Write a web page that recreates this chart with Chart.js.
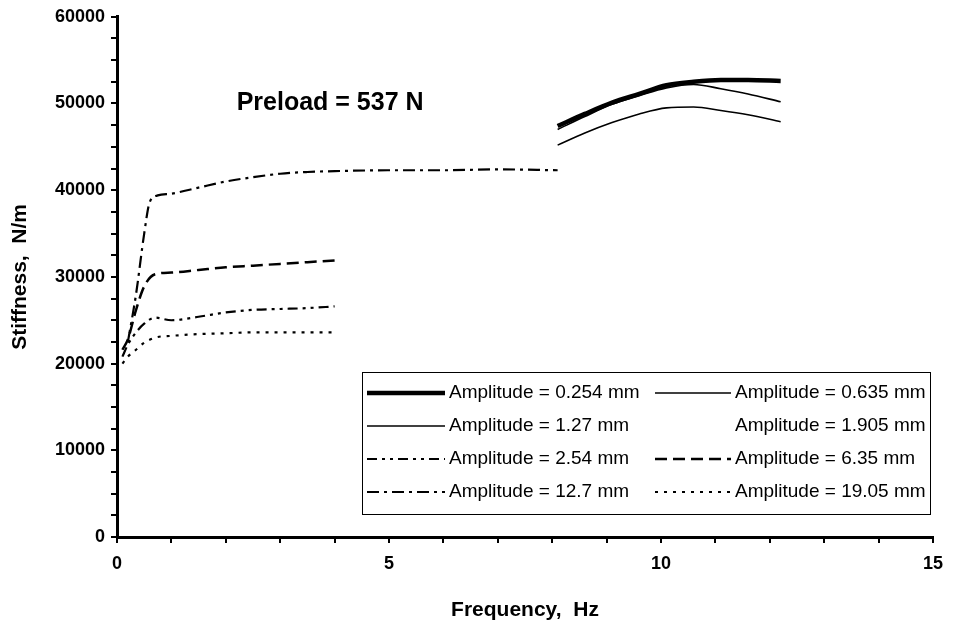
<!DOCTYPE html>
<html>
<head>
<meta charset="utf-8">
<script src="https://cdn.jsdelivr.net/npm/chart.js@4.4.1/dist/chart.umd.min.js"></script>
<style>
  html, body { margin: 0; padding: 0; background: #fff; }
  #wrap { width: 953px; height: 628px; }
</style>
</head>
<body>
<div id="wrap"><canvas id="chart" width="953" height="628"></canvas></div>
<script>
// frequency grids (Hz)
const freqLow = [0.1, 0.2, 0.35, 0.5, 0.7, 1, 1.5, 2, 2.5, 3, 3.5, 4];
const freqMid = [0.2, 0.35, 0.5, 0.6, 0.75, 1, 1.5, 2, 2.5, 3, 3.5, 4, 5, 6, 7, 8.1];
const freqHigh = [8.1, 8.6, 9.1, 9.6, 10.1, 10.6, 11.1, 11.6, 12.2];

// stiffness (N/m) per amplitude
const amp0254 = [47400, 48800, 50100, 51100, 52100, 52500, 52700, 52700, 52600];
const amp0635 = [47000, 48500, 49900, 50900, 51800, 52200, 51700, 51100, 50200];
const amp127 = [45200, 46600, 47800, 48800, 49500, 49600, 49200, 48700, 47900];
const amp1905 = [];
const amp254 = [20800, 22200, 23600, 24600, 25300, 25000, 25400, 25900, 26200, 26300, 26400, 26600];
const amp635 = [21600, 22800, 26200, 28900, 30300, 30500, 30800, 31100, 31300, 31500, 31700, 31900];
const amp127b = [22500, 28000, 35000, 38600, 39400, 39600, 40300, 41000, 41500, 41900, 42100, 42200, 42300, 42300, 42400, 42300];
const amp1905b = [20000, 20800, 21600, 22400, 23000, 23200, 23400, 23500, 23600, 23600, 23600, 23600];

const xTicks = [0, 5, 10, 15];
const yTicks = [0, 10000, 20000, 30000, 40000, 50000, 60000];

const pts = (xs, ys) => ys.map((y, i) => ({ x: xs[i], y: y }));

function series(label, xs, ys, width, dash) {
  return {
    label: label,
    data: pts(xs, ys),
    borderColor: "#000",
    borderWidth: width,
    borderDash: dash,
    pointRadius: 0,
    fill: false,
    cubicInterpolationMode: "monotone",
  };
}

const datasets = [
  series("Amplitude = 0.254 mm", freqHigh, amp0254, 4.5, []),
  series("Amplitude = 0.635 mm", freqHigh, amp0635, 1.6, []),
  series("Amplitude = 1.27 mm", freqHigh, amp127, 1.6, []),
  series("Amplitude = 1.905 mm", freqHigh, amp1905, 0, []),
  series("Amplitude = 2.54 mm", freqLow, amp254, 2.2, [10, 5, 3, 5, 3, 5]),
  series("Amplitude = 6.35 mm", freqLow, amp635, 2.5, [12, 6]),
  series("Amplitude = 12.7 mm", freqMid, amp127b, 2.2, [12, 5, 3, 5]),
  series("Amplitude = 19.05 mm", freqLow, amp1905b, 2.2, [3, 6]),
];

// legend box + preload note drawn on top
const overlay = {
  id: "overlay",
  afterDraw(chart) {
    const ctx = chart.ctx;
    const xs = chart.scales.x, ys = chart.scales.y;
    ctx.save();
    ctx.fillStyle = "#000";
    ctx.font = "bold 25px 'Liberation Sans', Arial, sans-serif";
    ctx.textBaseline = "middle";
    ctx.fillText("Preload = 537 N", xs.getPixelForValue(2.2), ys.getPixelForValue(50000));

    // legend
    const bx = 362, by = 372, bw = 568, bh = 142;
    ctx.lineWidth = 1;
    ctx.strokeStyle = "#000";
    ctx.setLineDash([]);
    ctx.strokeRect(bx + 0.5, by + 0.5, bw, bh);
    ctx.font = "19px 'Liberation Sans', Arial, sans-serif";
    const cols = [{ l0: 367, l1: 445, t: 449 }, { l0: 655, l1: 731, t: 735 }];
    chart.data.datasets.forEach((ds, i) => {
      const c = cols[i % 2];
      const y = by + 21 + Math.floor(i / 2) * 33;
      if (ds.borderWidth > 0) {
        ctx.beginPath();
        ctx.lineWidth = ds.borderWidth;
        ctx.setLineDash(ds.borderDash);
        ctx.moveTo(c.l0, y);
        ctx.lineTo(c.l1, y);
        ctx.stroke();
      }
      ctx.setLineDash([]);
      ctx.fillText(ds.label, c.t, y);
    });
    ctx.restore();
  },
};

const tickFont = { family: "'Liberation Sans', Arial, sans-serif", size: 18, weight: "bold" };
const titleFont = { family: "'Liberation Sans', Arial, sans-serif", size: 21, weight: "bold" };

new Chart(document.getElementById("chart"), {
  type: "line",
  data: { datasets: datasets },
  options: {
    responsive: false,
    animation: false,
    layout: { padding: { top: 14, right: 15, left: 0, bottom: 0 } },
    plugins: { legend: { display: false }, tooltip: { enabled: false } },
    scales: {
      x: {
        type: "linear",
        min: 0,
        max: 15,
        afterFit: (s) => { s.height = 91; },
        ticks: {
          stepSize: 1,
          autoSkip: false,
          maxRotation: 0,
          color: "#000",
          font: tickFont,
          padding: 10,
          callback: (v) => (xTicks.includes(v) ? String(v) : ""),
        },
        grid: { drawOnChartArea: false, drawTicks: true, tickLength: 6, color: "#000", lineWidth: 2 },
        border: { display: true, color: "#000", width: 3 },
        title: { display: true, text: "Frequency,  Hz", color: "#000", font: titleFont, padding: { top: 0, bottom: 5 } },
      },
      y: {
        min: 0,
        max: 60000,
        afterFit: (s) => { s.width = 117; },
        ticks: {
          stepSize: 2500,
          autoSkip: false,
          color: "#000",
          font: tickFont,
          padding: 6,
          callback: (v) => (yTicks.includes(v) ? String(v) : ""),
        },
        grid: { drawOnChartArea: false, drawTicks: true, tickLength: 6, color: "#000", lineWidth: 2 },
        border: { display: true, color: "#000", width: 3 },
        title: { display: true, text: "Stiffness,  N/m", color: "#000", font: titleFont, padding: { top: 8, bottom: 0 } },
      },
    },
  },
  plugins: [overlay],
});
</script>
</body>
</html>
